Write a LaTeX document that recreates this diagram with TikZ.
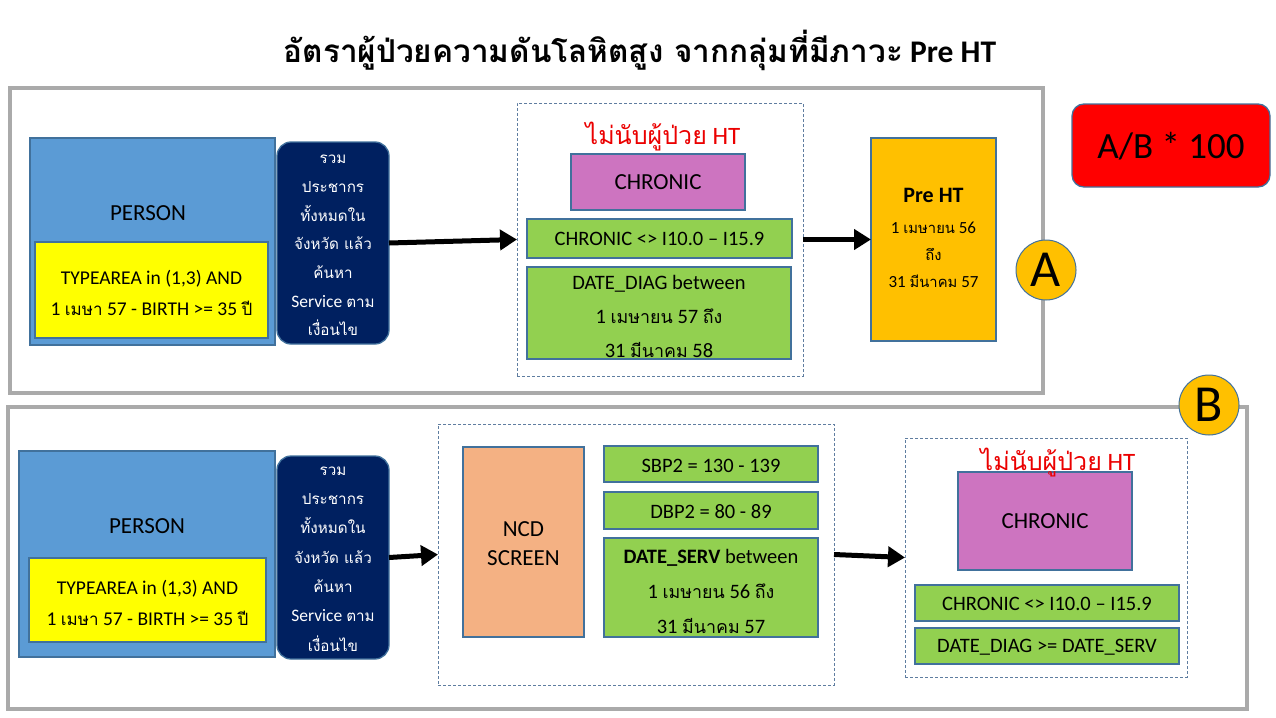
\documentclass[tikz,border=0pt]{standalone}
\usepackage{fontspec}
\setmainfont{Carlito}
\newfontfamily\thaif[Script=Thai,Scale=0.87]{Loma}
\newfontfamily\thaiT[Script=Thai]{Loma}
\newcommand\T[1]{{\thaif #1}}
\usetikzlibrary{arrows.meta}
\definecolor{bordc}{RGB}{65,113,156}
\definecolor{personblue}{RGB}{91,155,213}
\definecolor{navyf}{RGB}{0,32,96}
\definecolor{yellowf}{RGB}{255,255,0}
\definecolor{purplef}{RGB}{205,116,192}
\definecolor{greenf}{RGB}{146,208,80}
\definecolor{orangef}{RGB}{255,192,0}
\definecolor{peachf}{RGB}{244,177,131}
\definecolor{redf}{RGB}{255,0,0}
\definecolor{framegray}{RGB}{170,170,170}
\definecolor{dashc}{RGB}{95,125,160}
\definecolor{redtxt}{RGB}{235,0,0}
\begin{document}
\begin{tikzpicture}[x=1pt,y=-1pt,
  box/.style={draw=bordc, line width=1.3pt, inner sep=0pt, outer sep=0pt, anchor=north west},
  txt/.style={inner sep=0pt, align=center},
  frame/.style={draw=framegray, line width=3.5pt, inner sep=0pt, outer sep=0pt, anchor=north west},
  dbox/.style={draw=dashc, line width=0.9pt, dash pattern=on 3pt off 2pt, inner sep=0pt, outer sep=0pt, anchor=north west},
  arr/.style={line width=5pt, -{Triangle[length=17pt,width=20pt]}},
  badge/.style={circle, draw=bordc, fill=orangef, line width=1pt, minimum size=60pt, inner sep=0pt, font=\fontsize{52}{52}\selectfont},
  navybox/.style={box, fill=navyf, rounded corners=14pt},
  navytxt/.style={txt, text=white, font=\fontsize{17.5}{28.7}\selectfont},
  bodytxt/.style={txt, font=\fontsize{20.5}{31}\selectfont},
  yeltxt/.style={txt, font=\fontsize{19.5}{31}\selectfont},
  headtxt/.style={txt, font=\fontsize{23}{29}\selectfont},
  redlbl/.style={txt, text=redtxt, font=\fontsize{25}{25}\selectfont}
]
\useasboundingbox[fill=white] (0,0) rectangle (1276,717);

% title
\node[txt, font=\bfseries\fontsize{31.5}{31.5}\selectfont] (title) at (640,50)
  {{\thaiT อัตราผู้ป่วยความดันโลหิตสูง จากกลุ่มที่มีภาวะ} Pre HT};

% ===== Section A =====
\node[frame, minimum width=1033pt, minimum height=305pt] (frameA) at (10,88) {};
\node[box, fill=personblue, minimum width=245pt, minimum height=207pt] (personA) at (30,138) {};
\node[headtxt] (personAt) at (148,213) {PERSON};
\node[box, fill=yellowf, minimum width=233pt, minimum height=96pt] (yellowA) at (35,242) {};
\node[yeltxt] (yellowAt) at (151.5,292.5) {TYPEAREA in (1,3) AND\\1 \T{เมษา} 57 - BIRTH >= 35 \T{ปี}};
\node[navybox, minimum width=112pt, minimum height=202pt] (navyA) at (277,142) {};
\node[navytxt] (navyAt) at (333,245.5) {\T{รวม}\\\T{ประชากร}\\\T{ทั้งหมดใน}\\\T{จังหวัด แล้ว}\\\T{ค้นหา}\\Service \T{ตาม}\\\T{เงื่อนไข}};

\node[dbox, minimum width=286pt, minimum height=273pt] (dashA) at (517,103) {};
\node[box, fill=purplef, minimum width=174pt, minimum height=56pt] (chronA) at (571,154) {};
\node[headtxt] (chronAt) at (658,182) {CHRONIC};
\node[redlbl] (redA) at (663,137) {{\thaiT ไม่นับผู้ป่วย} HT};
\node[box, fill=greenf, minimum width=265pt, minimum height=39pt] (g1A) at (527,219) {};
\node[bodytxt] (g1At) at (659.5,238.5) {CHRONIC <> I10.0 -- I15.9};
\node[box, fill=greenf, minimum width=264pt, minimum height=92pt] (g2A) at (527,267) {};
\node[bodytxt, font=\fontsize{20.5}{34}\selectfont] (g2At) at (659,316) {DATE\_DIAG between\\1 \T{เมษายน} 57 \T{ถึง}\\31 \T{มีนาคม} 58};

\node[box, fill=orangef, minimum width=125pt, minimum height=203pt] (preHT) at (871,138) {};
\node[txt, font=\bfseries\fontsize{22}{22}\selectfont] (preHTt) at (933.5,195) {Pre HT};
\node[txt, font=\fontsize{17}{27}\selectfont] (preHTd) at (933.5,255) {1 \T{เมษายน} 56\\\T{ถึง}\\31 \T{มีนาคม} 57};

\draw[arr] (navyA.east) -- (dashA.west);
\draw[arr] (dashA.east) -- (preHT.west);

\node[badge] (badgeA) at (1046,270) {A};

\node[box, fill=redf, rounded corners=12pt, minimum width=198pt, minimum height=83pt] (formula) at (1072,104) {};
\node[txt, font=\fontsize{37}{37}\selectfont] (formulat) at (1171,146) {A/B * 100};

% ===== Section B =====
\node[frame, minimum width=1239pt, minimum height=302pt] (frameB) at (8,407) {};
\node[box, fill=personblue, minimum width=256pt, minimum height=206pt] (personB) at (19,451) {};
\node[headtxt] (personBt) at (147,526) {PERSON};
\node[box, fill=yellowf, minimum width=237pt, minimum height=84pt] (yellowB) at (29,558) {};
\node[yeltxt] (yellowBt) at (147.5,603) {TYPEAREA in (1,3) AND\\1 \T{เมษา} 57 - BIRTH >= 35 \T{ปี}};
\node[navybox, minimum width=112pt, minimum height=203pt] (navyB) at (277,456) {};
\node[navytxt, font=\fontsize{17.5}{29.3}\selectfont] (navyBt) at (333,559) {\T{รวม}\\\T{ประชากร}\\\T{ทั้งหมดใน}\\\T{จังหวัด แล้ว}\\\T{ค้นหา}\\Service \T{ตาม}\\\T{เงื่อนไข}};

\node[dbox, minimum width=396pt, minimum height=261pt] (dashB1) at (438,424) {};
\node[box, fill=peachf, minimum width=121pt, minimum height=190pt] (ncd) at (463,447) {};
\node[headtxt] (ncdt) at (523.5,543.5) {NCD\\SCREEN};
\node[box, fill=greenf, minimum width=214pt, minimum height=36pt] (sbp) at (604,446) {};
\node[bodytxt] (sbpt) at (711,466) {SBP2 = 130 - 139};
\node[box, fill=greenf, minimum width=214pt, minimum height=37pt] (dbp) at (604,492) {};
\node[bodytxt] (dbpt) at (711,512) {DBP2 = 80 - 89};
\node[box, fill=greenf, minimum width=214pt, minimum height=99pt] (dserv) at (604,538) {};
\node[bodytxt, font=\fontsize{20.5}{35}\selectfont] (dservt) at (711,591) {\textbf{DATE\_SERV} between\\1 \T{เมษายน} 56 \T{ถึง}\\31 \T{มีนาคม} 57};

\node[dbox, minimum width=282pt, minimum height=239pt] (dashB2) at (905,438) {};
\node[box, fill=purplef, minimum width=174pt, minimum height=98pt] (chronB) at (958,472) {};
\node[headtxt] (chronBt) at (1045,521) {CHRONIC};
\node[redlbl] (redB) at (1058,463) {{\thaiT ไม่นับผู้ป่วย} HT};
\node[box, fill=greenf, minimum width=264pt, minimum height=36pt] (g1B) at (915,585) {};
\node[bodytxt] (g1Bt) at (1047,604) {CHRONIC <> I10.0 -- I15.9};
\node[box, fill=greenf, minimum width=264pt, minimum height=36pt] (g2B) at (915,628) {};
\node[bodytxt] (g2Bt) at (1047,647) {DATE\_DIAG >= DATE\_SERV};

\draw[arr] (navyB.east) -- (dashB1.west);
\draw[arr] (dashB1.east) -- (dashB2.west);

\node[badge] (badgeB) at (1209,405) {B};
\end{tikzpicture}
\end{document}
